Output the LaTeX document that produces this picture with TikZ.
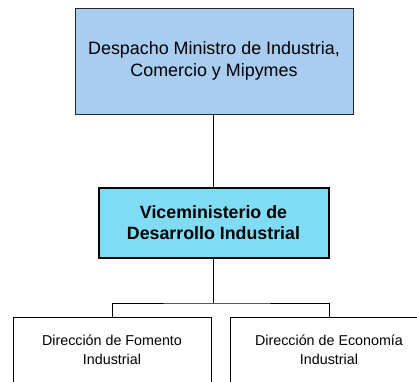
\documentclass[tikz,border=0pt]{standalone}
\usepackage{fontspec}
\setmainfont{Liberation Sans}
\usetikzlibrary{positioning}

\definecolor{despachoblue}{HTML}{A9CDF1}
\definecolor{vicecyan}{HTML}{80DCF5}

\begin{document}
\begin{tikzpicture}[
    x=1pt, y=-1pt,
    org box/.style={draw=black, align=center, inner sep=0pt, line width=0.8pt},
    top unit/.style={org box, fill=despachoblue, draw=black!85, minimum width=278pt, minimum height=106pt,
        font=\fontsize{17.9}{21.5}\selectfont},
    vice unit/.style={org box, fill=vicecyan, line width=2pt, minimum width=230pt, minimum height=70pt,
        font=\fontsize{17.8}{20.5}\selectfont\bfseries},
    dir unit/.style={org box, fill=white, minimum width=198pt, minimum height=66pt,
        font=\fontsize{14.3}{19}\selectfont},
    link/.style={draw=black, line width=0.8pt},
]
\useasboundingbox (0,0) rectangle (417,381);
\clip (0,0) rectangle (417,381);

% === Units ===
\node[top unit] (despacho) at (214,61) {Despacho Ministro de Industria,\\Comercio y Mipymes};
\node[vice unit] (vice) at (213.5,222.5) {Viceministerio de\\Desarrollo Industrial};
\node[dir unit] (fomento) at (112,350) {Dirección de Fomento\\Industrial};
\node[dir unit] (economia) at (329,350) {Dirección de Economía\\Industrial};

% === Links ===
\coordinate (split) at (213,303);
\draw[link] (despacho.south -| split) -- (vice.north -| split);
\draw[link] (vice.south -| split) -- (split);
\draw[link] (fomento.north) |- (split) -| (economia.north);

\end{tikzpicture}
\end{document}
